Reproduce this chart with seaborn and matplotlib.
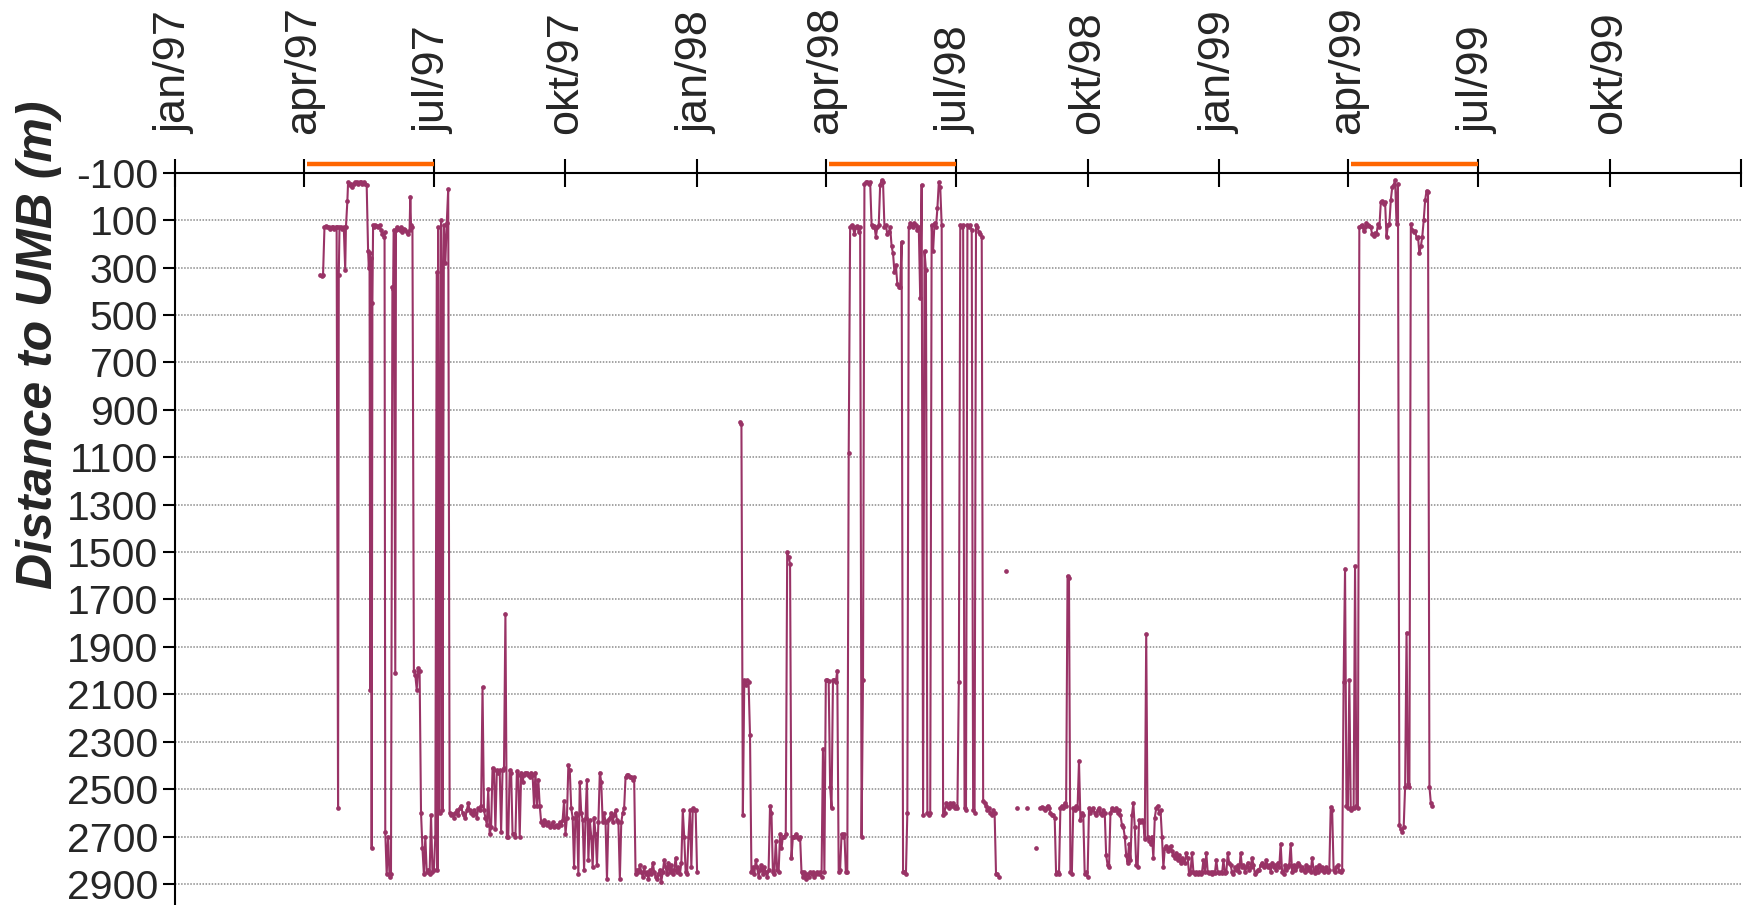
import numpy as np
import pandas as pd
import matplotlib
matplotlib.use("Agg")
import matplotlib.pyplot as plt
import matplotlib.transforms as mtransforms
import seaborn as sns

# ---------------- data (day offsets from 1 Jan 1997, distance to UMB in m) ----------------
origin = pd.Timestamp("1997-01-01")

# spring 1997 fixes (irregular sampling)
fix_97_spring = [
    (101.5, 330), (102.5, 335), (103.5, 330), (104.5, 130), (105.5, 125), (106.5, 130),
    (107.5, 130), (108.5, 135), (109.5, 130), (110.5, 130), (111.5, 135), (112.5, 130),
    (113, 130), (114, 2580), (114.5, 330), (115, 130), (116, 130), (117, 135), (118, 130),
    (119, 310), (119.5, 130), (120.5, 20), (121, -60), (122, -50), (123, -55), (124, -40),
    (125, -55), (126, -60), (127, -60), (128, -55), (129, -60), (130, -60), (131, -55),
    (132, -60), (133, -55), (134, -50), (135, 230), (135.5, 300), (136, 240), (136.5, 2080),
    (137, 260), (137.5, 2750), (138, 450), (138.5, 120), (139, 130), (140, 120), (141, 125),
    (142, 130), (143, 120), (144, 140), (145, 160), (146, 170), (146.5, 150), (147, 2680),
    (148, 2860), (149, 2700), (150, 2870), (151, 2860), (152, 380), (152.5, 390), (153, 140),
    (154, 2010), (154.5, 140), (155, 130), (156, 135), (157, 140), (158, 130), (159, 150),
    (160, 135), (161, 140), (162, 150), (163, 160), (164, 140), (164.5, 0), (165, 120),
    (166, 130), (167, 2000), (168, 2020), (169, 2080), (170, 1990), (171, 2000), (172, 2600),
    (173, 2750), (174, 2860), (175, 2700), (176, 2850), (177, 2840), (178, 2860), (179, 2610),
    (180, 2850), (181, 2840), (182, 2700), (183, 320), (183.5, 2840), (184, 130), (185, 2600),
    (186, 100), (186.5, 280), (187, 2590), (188, 120), (189, 280), (190, 110), (191, -30),
    (192, 2600),
]

# daily fixes, autumn 1997 (first day = 193)
start_97_autumn = 193
dist_97_autumn = [
    2610, 2605, 2620, 2600, 2590, 2610, 2580, 2570, 2600, 2610,
    2620, 2590, 2560, 2590, 2600, 2610, 2590, 2600, 2620, 2580,
    2590, 2570, 2070, 2590, 2620, 2650, 2500, 2690, 2660, 2410,
    2420, 2670, 2420, 2430, 2420, 2680, 2420, 2410, 1760, 2700,
    2700, 2420, 2430, 2690, 2690, 2700, 2425, 2440, 2700, 2430,
    2470, 2440, 2430, 2430, 2440, 2450, 2430, 2440, 2570, 2430,
    2570, 2460, 2570, 2640, 2650, 2630, 2640, 2650, 2640, 2660,
    2650, 2640, 2660, 2655, 2650, 2660, 2640, 2650, 2630, 2550,
    2690, 2620, 2400, 2420, 2580, 2620, 2830, 2600, 2610, 2860,
    2470, 2600, 2630, 2840, 2620, 2460, 2800, 2630, 2700, 2830,
    2620, 2690, 2820, 2640, 2430, 2470, 2640, 2600, 2640, 2880,
    2630, 2620, 2600, 2640, 2610, 2590, 2630, 2640, 2880, 2640,
    2600, 2580, 2450, 2440, 2440, 2450, 2450, 2460, 2450, 2860,
    2840, 2850, 2820, 2850, 2870, 2830, 2860, 2850, 2880, 2840,
    2860, 2810, 2850, 2870, 2880, 2860, 2840, 2890, 2850, 2800,
    2830, 2860, 2810, 2850, 2820, 2860, 2840, 2790, 2850, 2830,
    2860, 2810, 2590, 2700, 2850, 2860, 2700, 2590, 2830, 2580,
    2590, 2590, 2850,
]

# daily fixes, 1998 (first day = 395)
start_98 = 395
dist_98 = [
    950, 960, 2610, 2040, 2060, 2040, 2050, 2270, 2850, 2830,
    2860, 2800, 2830, 2870, 2840, 2820, 2860, 2830, 2850, 2870,
    2840, 2570, 2600, 2850, 2860, 2720, 2840, 2850, 2690, 2750,
    2700, 2700, 2690, 1500, 1520, 1550, 2790, 2700, 2700, 2690,
    2700, 2710, 2700, 2850, 2870, 2850, 2880, 2860, 2870, 2850,
    2860, 2850, 2870, 2860, 2850, 2860, 2850, 2870, 2330, 2850,
    2040, 2040, 2045, 2490, 2580, 2040, 2040, 2050, 2000, 2850,
    2840, 2690, 2700, 2690, 2850, 2850, 1080, 130, 120, 130,
    160, 130, 125, 150, 130, 2700, 2040, -55, -60, -60,
    -55, -60, 120, 130, 125, 170, 130, 120, -50, -70,
    -60, 130, 120, 160, 150, 130, 210, 240, 320, 290,
    370, 380, 380, 190, 2850, 2850, 2860, 2600, 130, 110,
    120, 130, 110, 120, 140, 130, 430, -50, 2610, 230,
    310, 2600, 2610, 2600, 120, 230, 110, 130, 50, -60,
    -40, 120, 2610, 2600, 2560, 2570, 2580, 2560, 2570, 2560,
    2580, 2570, 2580, 2050, 120, 130, 120, 2580, 2590, 120,
    130, 120, 140, 2590, 2600, 120, 130, 150, 160, 170,
    2550, 2560, 2570, 2590, 2580, 2600, 2610, 2590, 2600, 2860,
    2860, 2870,
]

# isolated fixes, summer 1998
day_98_single = [581, 589, 596, 602]
dist_98_single = [1580, 2580, 2580, 2750]

# daily fixes, autumn 1998 - spring 1999 (first day = 605)
start_99 = 605
dist_99 = [
    2580, 2575, 2580, 2590, 2580, 2570, 2580, 2600, 2610, 2610,
    2620, 2860, 2850, 2860, 2580, 2570, 2580, 2560, 2570, 1600,
    1610, 2850, 2860, 2580, 2590, 2570, 2580, 2380, 2630, 2600,
    2610, 2860, 2850, 2870, 2580, 2600, 2590, 2580, 2600, 2610,
    2590, 2580, 2600, 2610, 2590, 2600, 2780, 2820, 2830, 2600,
    2580, 2590, 2590, 2580, 2600, 2590, 2610, 2650, 2660, 2700,
    2780, 2810, 2730, 2800, 2610, 2560, 2660, 2820, 2830, 2630,
    2640, 2630, 2640, 2710, 1845, 2700, 2720, 2730, 2700, 2790,
    2620, 2580, 2570, 2600, 2590, 2700, 2830, 2750, 2740, 2760,
    2750, 2740, 2760, 2780, 2790, 2770, 2800, 2780, 2810, 2790,
    2800, 2810, 2770, 2790, 2860, 2850, 2770, 2850, 2860, 2850,
    2860, 2850, 2860, 2850, 2800, 2850, 2770, 2850, 2855, 2850,
    2860, 2850, 2855, 2800, 2850, 2855, 2850, 2855, 2800, 2855,
    2850, 2770, 2810, 2820, 2850, 2860, 2830, 2840, 2820, 2850,
    2770, 2830, 2820, 2850, 2830, 2810, 2840, 2830, 2790, 2820,
    2860, 2850, 2840, 2840, 2820, 2810, 2830, 2820, 2800, 2830,
    2820, 2850, 2810, 2830, 2820, 2840, 2810, 2830, 2730, 2850,
    2860, 2820, 2840, 2830, 2820, 2730, 2850, 2820, 2840, 2830,
    2810, 2820, 2840, 2830, 2840, 2850, 2820, 2840, 2830, 2850,
    2790, 2840, 2855, 2830, 2850, 2820, 2840, 2830, 2850, 2840,
    2830, 2850, 2840, 2575, 2590, 2840, 2850, 2830, 2820, 2845,
    2850, 2840, 2050, 1570, 2570, 2580, 2040, 2590, 2580, 2580,
    1560, 2570, 2580, 130, 125, 120, 145, 130, 110, 120,
    125, 130, 160, 165, 155, 160, 115, 130, 25, 20,
    30, 25, 170, 120, 115, 15, -40, -50, -70, 115,
    -55, 2650, 2670, 2680, 2660, 2490, 1840, 2480, 2490, 115,
    140, 150, 145, 175, 170, 240, 210, 170, 100, 15,
    -25, -20, 2490, 2560, 2570,
]

# spring season markers (orange bars) and axis ticks
season_start = ["1997-04-03", "1998-04-03", "1999-04-03"]
season_end = ["1997-07-01", "1998-07-01", "1999-07-01"]
tick_dates = pd.date_range("1997-01-01", "2000-01-01", freq="QS")
tick_labels = ["jan/97", "apr/97", "jul/97", "okt/97", "jan/98", "apr/98", "jul/98",
               "okt/98", "jan/99", "apr/99", "jul/99", "okt/99", ""]
y_ticks = list(range(-100, 3000, 200))

# ---------------- build tidy frame ----------------
frames = []
unit = 0
d97 = [d for d, _ in fix_97_spring] + [start_97_autumn + i for i in range(len(dist_97_autumn))]
v97 = [v for _, v in fix_97_spring] + dist_97_autumn
frames.append(pd.DataFrame({"day": d97, "dist": v97, "unit": unit})); unit += 1
frames.append(pd.DataFrame({"day": [start_98 + i for i in range(len(dist_98))], "dist": dist_98, "unit": unit})); unit += 1
for d, v in zip(day_98_single, dist_98_single):
    frames.append(pd.DataFrame({"day": [d], "dist": [v], "unit": unit})); unit += 1
frames.append(pd.DataFrame({"day": [start_99 + i for i in range(len(dist_99))], "dist": dist_99, "unit": unit}))
df = pd.concat(frames, ignore_index=True)
df["date"] = origin + pd.to_timedelta(df["day"], unit="D")

# ---------------- plot ----------------
sns.set_theme(style="white")
plt.rcParams["font.family"] = ["Liberation Sans", "DejaVu Sans"]
plt.rcParams["axes.unicode_minus"] = False

fig = plt.figure(figsize=(17.5, 9.05), dpi=100)
ax = fig.add_axes([0.1, 0.0, 0.895, 0.809])

sns.lineplot(data=df, x="date", y="dist", units="unit", estimator=None, sort=False,
             color="#993366", linewidth=1.5, marker="o", markersize=3.4,
             markeredgewidth=0, legend=False, ax=ax)

ax.set_xlim(pd.Timestamp("1997-01-01"), pd.Timestamp("2000-01-01"))
ax.set_ylim(2989, -100)

ax.set_yticks(y_ticks)
ax.set_yticklabels([str(t) for t in y_ticks])
ax.yaxis.grid(True, linestyle=(0, (1, 1)), color="#8a8a8a", linewidth=1.1)
ax.xaxis.grid(False)

ax.xaxis.tick_top()
ax.set_xticks(tick_dates)
ax.set_xticklabels(tick_labels, rotation=90)
ax.tick_params(axis="x", direction="inout", length=20, width=1.5, color="black",
               labelsize=32.5, pad=18, top=True, bottom=False)
ax.tick_params(axis="y", direction="out", length=9, width=1.5, color="black",
               labelsize=29.5, pad=3, left=True)

for side in ["right", "bottom"]:
    ax.spines[side].set_visible(False)
for side in ["top", "left"]:
    ax.spines[side].set_visible(True)
    ax.spines[side].set_color("black")
    ax.spines[side].set_linewidth(1.5)

ax.set_xlabel("")
ax.set_ylabel("")
fig.text(39 / 1750, 1 - 345 / 905, "Distance to UMB (m)", rotation=90,
         ha="center", va="center", fontsize=36, fontweight="bold", fontstyle="italic")

trans = mtransforms.blended_transform_factory(ax.transData, ax.transAxes)
for s, e in zip(season_start, season_end):
    ax.plot([pd.Timestamp(s), pd.Timestamp(e)], [1.012, 1.012], transform=trans,
            color="#FF6600", linewidth=3.2, solid_capstyle="butt", clip_on=False, zorder=5)

fig.savefig("out.png", dpi=100)
